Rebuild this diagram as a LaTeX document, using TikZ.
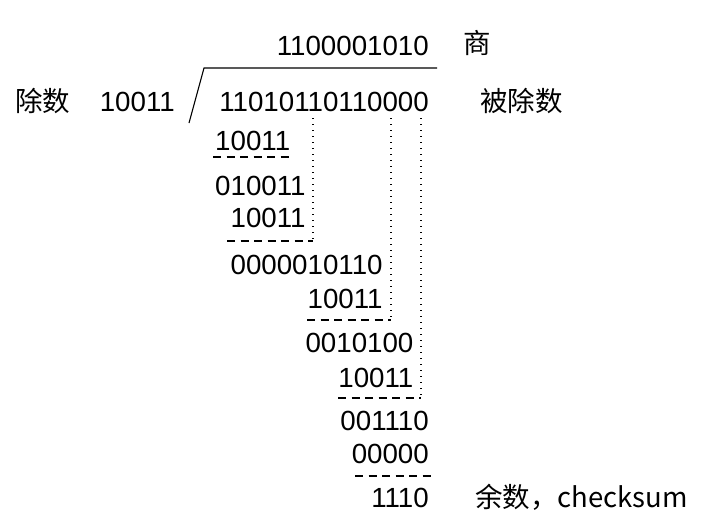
\documentclass[tikz,border=0pt]{standalone}
\usepackage{fontspec}
\setmainfont{Liberation Sans}
\newfontfamily\cjk{Noto Sans CJK SC}
\begin{document}
\begin{tikzpicture}[x=1pt,y=-1pt,
  num/.style={anchor=base east, inner sep=0pt, font=\fontsize{27.7}{30}\selectfont},
  lab/.style={anchor=base west, inner sep=0pt, font=\cjk\fontsize{27.5}{30}\selectfont},
  dashline/.style={line width=1.1pt, dash pattern=on 8pt off 5.5pt},
  dotline/.style={line width=1.5pt, dash pattern=on 1.4pt off 4.6pt},
  bracket/.style={line width=1.1pt}]
\useasboundingbox (0,0) rectangle (720,525);
% quotient and dividend
\node[num] (q) at (429,55) {1100001010};
\node[lab] (shang) at (463,53) {商};
\node[lab] (chushu) at (15,111) {除数};
\node[num] (divisor) at (175,111) {10011};
\node[num] (dividend) at (429,111) {11010110110000};
\node[lab] (beichushu) at (480,111) {被除数};
% bracket
\coordinate (bk) at (189,123);
\coordinate (bt) at (204,68);
\coordinate (br) at (437,68);
\draw[bracket] (bk) -- (bt) -- (br);
% steps
\node[num] (s1) at (290.4,150) {10011};
\node[num] (r1) at (305.8,195) {010011};
\node[num] (s2) at (305.8,227) {10011};
\node[num] (r2) at (382.8,274) {0000010110};
\node[num] (s3) at (382.8,308) {10011};
\node[num] (r3) at (413.6,352) {0010100};
\node[num] (s4) at (413.6,387) {10011};
\node[num] (r4) at (429,430) {001110};
\node[num] (s5) at (429,463) {00000};
\node[num] (rem) at (429,507) {1110};
\node[lab] (yushu) at (475,507) {余数，checksum};
% dashed rules
\coordinate (d1a) at (213,157); \coordinate (d1b) at (293,157);
\coordinate (d2a) at (227,241); \coordinate (d2b) at (313,241);
\coordinate (d3a) at (307,320); \coordinate (d3b) at (391,320);
\coordinate (d4a) at (338,398); \coordinate (d4b) at (421,398);
\coordinate (d5a) at (355,476); \coordinate (d5b) at (435,476);
\draw[dashline] (d1a) -- (d1b);
\draw[dashline] (d2a) -- (d2b);
\draw[dashline] (d3a) -- (d3b);
\draw[dashline] (d4a) -- (d4b);
\draw[dashline] (d5a) -- (d5b);
% dotted bring-down lines
\coordinate (v1) at (313,118);
\coordinate (v2) at (391,118);
\coordinate (v3) at (421,118);
\draw[dotline] (v1) -- (d2b);
\draw[dotline] (v2) -- (d3b);
\draw[dotline] (v3) -- (d4b);
\end{tikzpicture}
\end{document}
